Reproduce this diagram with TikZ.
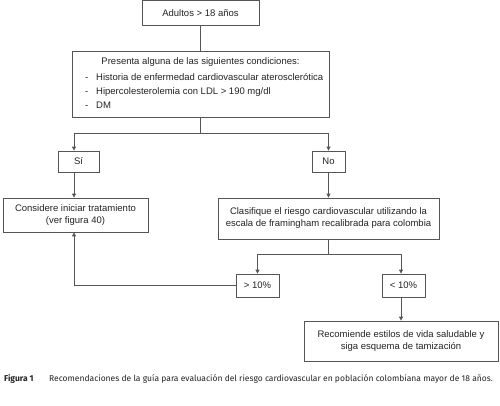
\documentclass[tikz,border=0pt]{standalone}
\usepackage{fontspec}
\setmainfont{Liberation Sans}
\newfontfamily\capfont{Fira Sans}
\usetikzlibrary{arrows.meta}
\definecolor{linec}{HTML}{555555}
\definecolor{txtc}{HTML}{222222}
\tikzset{
  fbox/.style={draw=linec, line width=0.8pt, inner sep=0pt, align=center,
    font=\fontsize{9.5}{12}\selectfont, text=txtc},
  conn/.style={draw=linec, line width=0.8pt},
  arr/.style={conn, -{Triangle[length=4pt,width=4pt]}},
  itemtxt/.style={anchor=base west, inner sep=0pt, font=\fontsize{9.5}{12}\selectfont, text=txtc},
  captxt/.style={anchor=base west, inner sep=0pt, text=txtc, font=\capfont\fontsize{8.5}{10}\selectfont}
}
\begin{document}
\begin{tikzpicture}[x=1pt,y=-1pt]
\useasboundingbox (0,0) rectangle (500,405);
\node[fbox, minimum width=117pt, minimum height=24.5pt] (a) at (200.5,12.8) {Adultos > 18 años};
\node[fbox, minimum width=257pt, minimum height=66pt] (b) at (200.5,84) {};
\node[itemtxt, anchor=base] (bt) at (200.5,64.5) {Presenta alguna de las siguientes condiciones:};
\node[itemtxt] (d1) at (85,80.5) {-};
\node[itemtxt] (i1) at (96,80.5) {Historia de enfermedad cardiovascular aterosclerótica};
\node[itemtxt] (d2) at (85,94.5) {-};
\node[itemtxt] (i2) at (96,94.5) {Hipercolesterolemia con LDL > 190 mg/dl};
\node[itemtxt] (d3) at (85,108.5) {-};
\node[itemtxt] (i3) at (96,108.5) {DM};
\node[fbox, minimum width=41pt, minimum height=21pt] (si) at (78.5,161.5) {Sí};
\node[fbox, minimum width=33pt, minimum height=21pt] (no) at (328.5,161.5) {No};
\node[fbox, minimum width=145pt, minimum height=34pt] (cons) at (75.5,215) {Considere iniciar tratamiento\\(ver figura 40)};
\node[fbox, minimum width=221pt, minimum height=41pt] (clas) at (328.5,218.5) {Clasifique el riesgo cardiovascular utilizando la\\escala de framingham recalibrada para colombia};
\node[fbox, minimum width=43pt, minimum height=23pt] (gt) at (257.5,285.5) {> 10\%};
\node[fbox, minimum width=43pt, minimum height=23pt] (lt) at (403.5,285.5) {< 10\%};
\node[fbox, minimum width=194pt, minimum height=40pt] (rec) at (401,341) {Recomiende estilos de vida saludable y\\siga esquema de tamización};
\coordinate (s1) at (200.5,133);
\coordinate (s2) at (328.5,254);
% connectors
\draw[conn] (a.south) -- (b.north);
\draw[conn] (b.south) -- (s1);
\draw[arr] (s1) -| ([xshift=-4.5pt]si.north);
\draw[arr] (s1) -| (no.north);
\draw[arr] ([xshift=-4.5pt]si.south) -- ([xshift=-1.5pt]cons.north);
\draw[arr] (no.south) -- (clas.north);
\draw[conn] (clas.south) -- (s2);
\draw[arr] (s2) -| (gt.north);
\draw[arr] (s2) -| ([xshift=-2.5pt]lt.north);
\draw[arr] (gt.west) -| ([xshift=-1.5pt]cons.south);
\draw[arr] ([xshift=-2.5pt]lt.south) -- (rec.north);
% caption
\node[captxt, font=\capfont\bfseries\fontsize{8.5}{10}\selectfont] (fig) at (4,381) {Figura 1};
\node[captxt] (cap) at (49,381) {Recomendaciones de la guía para evaluación del riesgo cardiovascular en población colombiana mayor de 18 años.};
\end{tikzpicture}
\end{document}
